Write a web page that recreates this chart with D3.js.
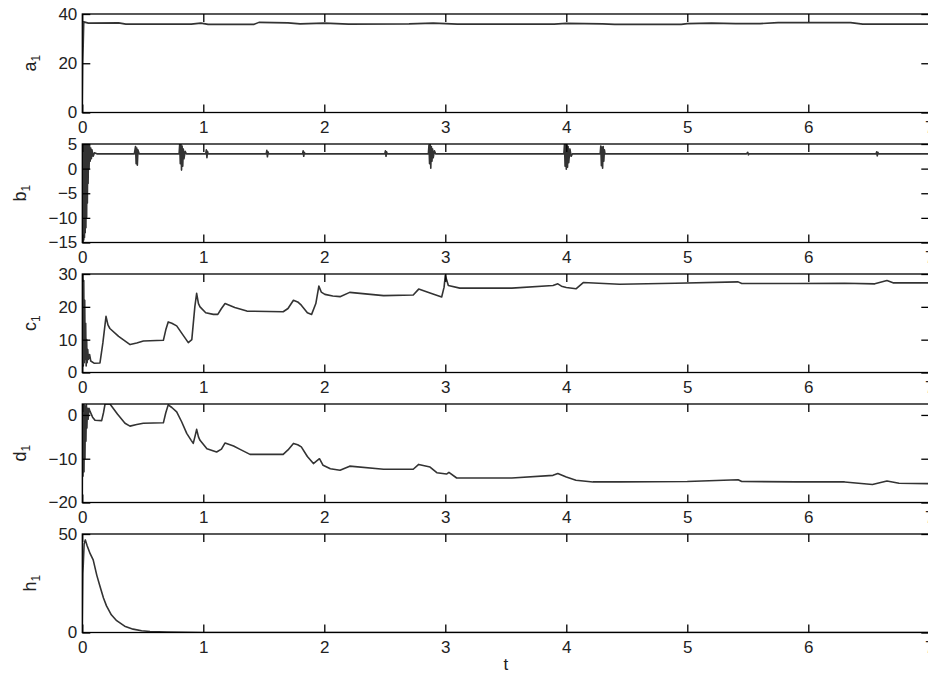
<!DOCTYPE html>
<html>
<head>
<meta charset="utf-8">
<script src="https://cdn.jsdelivr.net/npm/d3@7"></script>
<style>
  body { margin: 0; background: #fff; }
  svg text { font-family: "Liberation Sans", Arial, Helvetica, sans-serif; fill: #222; }
</style>
</head>
<body>
<svg id="chart" width="928" height="679"></svg>
<script>
// time ticks shared by all panels
const tTicks = [0, 1, 2, 3, 4, 5, 6, 7];

// panel names, y domains and y ticks
const panelNames = ["a", "b", "c", "d", "h"];
const yDomains = [[0, 40], [-15, 5], [0, 30], [-20, 2.5], [0, 50]];
const yTicks = [[0, 20, 40], [-15, -10, -5, 0, 5], [0, 10, 20, 30], [-20, -10, 0], [0, 50]];

// series, [t, value]
const a1Data = [[0,0],[0.004,20],[0.012,36.8],[0.05,36.3],[0.3,36.4],[0.36,35.9],[0.9,35.9],[0.98,36.3],[1.04,35.8],[1.42,35.8],[1.46,36.6],[1.7,36.4],[1.8,36.0],[2.0,36.3],[2.2,35.9],[2.7,36.0],[2.9,36.3],[3.1,35.9],[3.9,35.9],[4.0,36.2],[4.3,36.0],[4.4,35.8],[4.95,35.8],[5.0,36.1],[5.2,36.3],[5.4,36.1],[5.6,36.1],[5.75,36.5],[6.35,36.5],[6.45,35.9],[7,35.9]];

const b1Data = [[0,-15],[0.003,5],[0.006,-15],[0.009,5],[0.012,-14.5],[0.015,5],[0.018,-14],[0.021,5],[0.024,-13],[0.027,5],[0.03,-12],[0.033,5],[0.036,-10],[0.039,5],[0.042,-7],[0.045,5],[0.048,-3],[0.052,5],[0.056,0],[0.06,4.8],[0.065,1.5],[0.07,4.2],[0.075,2],[0.08,3.8],[0.09,2.5],[0.1,3.2],[0.12,3],
  [0.43,3],[0.44,4.5],[0.445,1],[0.45,4.2],[0.455,0.7],[0.46,3.8],[0.47,3],
  [0.8,3],[0.805,5],[0.81,1],[0.815,5],[0.82,-0.3],[0.825,4.6],[0.83,0.5],[0.835,4],[0.84,2],[0.85,3.5],[0.86,3],
  [1.02,3],[1.025,3.8],[1.03,2.2],[1.035,3.5],[1.04,3],
  [1.52,3],[1.525,3.7],[1.53,2.4],[1.535,3.4],[1.54,3],
  [1.82,3],[1.825,3.6],[1.83,2.5],[1.835,3.3],[1.84,3],
  [2.5,3],[2.505,3.6],[2.51,2.5],[2.515,3.4],[2.52,3],
  [2.86,3],[2.865,4.8],[2.87,1],[2.875,5],[2.88,0.1],[2.885,4.5],[2.89,1.5],[2.895,4],[2.9,2.2],[2.91,3.6],[2.92,3],
  [3.98,3],[3.985,5],[3.99,0.5],[3.995,5],[4.0,-0.1],[4.005,4.8],[4.01,0.3],[4.015,4.5],[4.02,1.2],[4.03,4],[4.04,2.5],[4.05,3],
  [4.28,3],[4.285,4.6],[4.29,0.6],[4.295,4.4],[4.3,0.1],[4.305,4.5],[4.31,1.5],[4.315,3.8],[4.32,3],
  [5.49,3],[5.5,3.3],[5.505,2.8],[5.51,3],
  [6.56,3],[6.565,3.4],[6.57,2.6],[6.575,3.3],[6.58,3],[7,3]];

const c1Data = [[0,0],[0.004,30],[0.008,2],[0.012,28],[0.016,3],[0.02,22],[0.024,4],[0.028,15],[0.032,2],[0.036,10],[0.04,3],[0.045,7],[0.05,4],[0.06,5.5],[0.07,3.5],[0.1,2.8],[0.146,2.9],[0.17,9],[0.196,17.1],[0.212,14.5],[0.228,13.4],[0.3,11],[0.395,8.5],[0.45,9],[0.505,9.6],[0.67,9.8],[0.69,13],[0.71,15.4],[0.74,15],[0.78,14.2],[0.84,11],[0.876,9.1],[0.905,10],[0.93,20],[0.945,24.1],[0.96,21],[0.973,20],[1.02,18.2],[1.083,17.7],[1.12,17.7],[1.15,19.5],[1.18,21],[1.26,19.8],[1.36,18.7],[1.66,18.5],[1.7,19.5],[1.745,22],[1.78,21.5],[1.81,20.5],[1.86,18.2],[1.895,17.7],[1.93,21],[1.955,26.3],[1.975,24.5],[2.005,23.8],[2.07,23.3],[2.13,23.1],[2.21,24.4],[2.49,23.4],[2.735,23.6],[2.78,25.4],[2.874,24.2],[2.97,23],[2.99,26],[3.0,29.6],[3.025,26.5],[3.12,25.7],[3.55,25.7],[3.89,26.5],[3.93,27],[3.96,26.3],[4.0,25.9],[4.08,25.5],[4.14,27.4],[4.44,26.9],[4.9,27.2],[5.42,27.6],[5.45,27.1],[5.9,27.1],[6.3,27.2],[6.55,27.0],[6.65,28],[6.7,27.3],[7,27.3]];

const d1Data = [[0,-20],[0.003,2.5],[0.006,-14],[0.01,2.5],[0.014,-13],[0.018,2.2],[0.022,-10],[0.026,2],[0.03,-6],[0.034,2.3],[0.038,-3],[0.042,1.5],[0.048,-1],[0.055,1.5],[0.064,0.8],[0.085,-0.5],[0.105,-1.2],[0.16,-1.3],[0.175,0.5],[0.188,2.5],[0.229,2.5],[0.29,0.2],[0.353,-1.9],[0.394,-2.55],[0.45,-2.2],[0.504,-1.9],[0.67,-1.8],[0.69,0.5],[0.71,2.3],[0.74,1.7],[0.78,0.7],[0.82,-1.5],[0.863,-4.2],[0.9,-5.8],[0.917,-6.5],[0.935,-4.5],[0.945,-3.3],[0.96,-5],[0.973,-5.8],[1.03,-7.7],[1.11,-8.45],[1.15,-7.8],[1.18,-6.4],[1.25,-7.1],[1.3,-7.8],[1.386,-9],[1.66,-9],[1.7,-8],[1.745,-6.5],[1.78,-6.8],[1.81,-7.3],[1.86,-9.5],[1.91,-11.1],[1.96,-10],[1.99,-11.5],[2.05,-12.3],[2.13,-12.65],[2.21,-11.7],[2.49,-12.4],[2.735,-12.4],[2.78,-11.3],[2.874,-11.9],[2.93,-13.2],[3.01,-13.5],[3.03,-13.1],[3.094,-14.4],[3.55,-14.4],[3.89,-13.8],[3.93,-13.4],[4.0,-14.2],[4.08,-14.9],[4.22,-15.3],[4.44,-15.3],[5.0,-15.2],[5.42,-14.8],[5.45,-15.2],[5.9,-15.3],[6.3,-15.3],[6.53,-15.9],[6.65,-15.1],[6.75,-15.6],[7,-15.7]];

const h1Data = [[0,0],[0.005,30],[0.015,45],[0.025,47],[0.04,44],[0.065,40],[0.09,36.9],[0.12,29],[0.146,23.5],[0.175,17.5],[0.2,13.5],[0.24,9],[0.284,6],[0.35,3.2],[0.42,1.7],[0.49,0.9],[0.56,0.5],[0.7,0.2],[0.85,0.05],[1.0,0],[7,0]];

const series = [a1Data, b1Data, c1Data, d1Data, h1Data];

// layout
const left = 82.3, right = 929.3;
const panelTops = [14, 144, 274, 404, 534];
const panelH = 98.5;
const tickLen = 8;

const svg = d3.select("#chart");
const x = d3.scaleLinear().domain([0, 7]).range([left, right]);

panelNames.forEach(function(name, i) {
  const top = panelTops[i], bottom = top + panelH;
  const y = d3.scaleLinear().domain(yDomains[i]).range([bottom, top]);
  const g = svg.append("g");

  g.append("clipPath").attr("id", "clip" + i)
    .append("rect").attr("x", left).attr("y", top).attr("width", right - left).attr("height", panelH);

  // curve
  const line = d3.line().x(d => x(d[0])).y(d => y(d[1]));
  g.append("path")
    .datum(series[i])
    .attr("clip-path", "url(#clip" + i + ")")
    .attr("fill", "none")
    .attr("stroke", "#333")
    .attr("stroke-width", 1.6)
    .attr("stroke-linejoin", "round")
    .attr("d", line);

  // axes, ticks pointing in
  g.append("g").attr("transform", "translate(0," + bottom + ")")
    .call(d3.axisBottom(x).tickValues(tTicks).tickSizeInner(-tickLen).tickSizeOuter(0).tickPadding(8).tickFormat(d3.format("d")));
  g.append("g").attr("transform", "translate(0," + top + ")")
    .call(d3.axisTop(x).tickValues(tTicks).tickSizeInner(-tickLen).tickSizeOuter(0).tickFormat(""));
  const leftAx = g.append("g").attr("transform", "translate(" + left + ",0)")
    .call(d3.axisLeft(y).tickValues(yTicks[i]).tickSizeInner(-tickLen).tickSizeOuter(0).tickPadding(5).tickFormat(d3.format("d")));
  g.append("g").attr("transform", "translate(" + right + ",0)")
    .call(d3.axisRight(y).tickValues(yTicks[i]).tickSizeInner(-tickLen).tickSizeOuter(0).tickFormat(""));

  g.selectAll(".domain").remove();
  g.selectAll(".tick line").attr("stroke", "#000").attr("stroke-width", 1.3);
  g.selectAll(".tick text").attr("font-size", 17).attr("fill", "#222")
    .attr("font-family", "'Liberation Sans', Arial, Helvetica, sans-serif");

  // box
  g.append("rect")
    .attr("x", left).attr("y", top).attr("width", right - left).attr("height", panelH)
    .attr("fill", "none").attr("stroke", "#000").attr("stroke-width", 1.3);

  // y label placed left of the widest tick label
  let minX = left;
  leftAx.selectAll(".tick text").each(function() {
    const b = this.getBBox();
    minX = Math.min(minX, left - 5 - b.width);
  });
  const lx = minX - 22, ly = (top + bottom) / 2;
  const lab = g.append("text")
    .attr("transform", "translate(" + lx + "," + ly + ") rotate(-90)")
    .attr("text-anchor", "middle")
    .attr("font-size", 18);
  lab.append("tspan").text(name);
  lab.append("tspan").attr("font-size", 12).attr("dy", 4).text("1");
});

// x label
svg.append("text")
  .attr("x", (left + right) / 2)
  .attr("y", panelTops[4] + panelH + 37)
  .attr("text-anchor", "middle")
  .attr("font-size", 17)
  .text("t");
</script>
</body>
</html>
